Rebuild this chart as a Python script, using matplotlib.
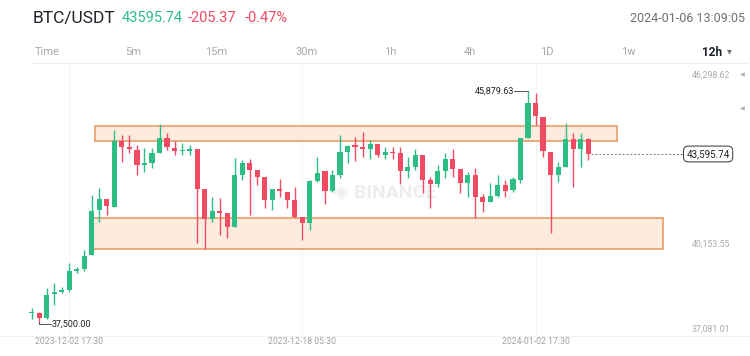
import matplotlib
matplotlib.use('Agg')
import matplotlib.pyplot as plt
from matplotlib.lines import Line2D
from matplotlib.patches import Rectangle

plt.rcParams['font.family'] = ['Roboto', 'DejaVu Sans']

# 12h candles, Binance BTC/USDT
opens = [37830, 37830, 37650, 38520, 38590, 38660, 39350, 39420, 39930, 41560,
         41960, 41670, 44070, 43850, 43740, 43200, 43270, 43630, 44180, 43810,
         43720, 43700, 43780, 42330, 41240, 41530, 41460, 40950, 42830, 43270,
         43010, 42760, 41930, 42330, 42220, 41930, 41310, 41090, 42620, 42980,
         42250, 42830, 43670, 43920, 43850, 43780, 43960, 43560, 43670, 43630,
         42980, 43120, 43560, 42650, 42510, 42980, 43410, 43050, 42540, 42830,
         42040, 41860, 42070, 42470, 42290, 42650, 44180, 45440, 44940, 43670,
         42830, 43120, 44140, 43780, 44140]
highs = [38000, 37880, 38735, 38920, 38770, 39640, 39500, 40110, 42110, 42360,
         41980, 44470, 44290, 44290, 43930, 43820, 43820, 44680, 44360, 44070,
         43990, 43930, 43790, 42330, 42040, 42000, 41460, 43450, 43380, 43410,
         43010, 42760, 42330, 42690, 42220, 42400, 41310, 42650, 43490, 42980,
         43010, 44290, 43930, 44210, 44390, 44100, 43960, 43850, 43850, 43850,
         43490, 43780, 43560, 42760, 43200, 43630, 43780, 43050, 42940, 43090,
         42150, 42540, 42830, 42650, 42760, 44180, 45879.63, 45810, 44940, 43670,
         43300, 44720, 44360, 44360, 44180]
lows = [37600, 37500, 37600, 38120, 38550, 38590, 39280, 39350, 39930, 41130,
        41380, 41670, 43300, 43630, 42830, 42940, 43090, 43630, 43740, 43560,
        43560, 43560, 40370, 40150, 41130, 40660, 40550, 40950, 42650, 41380,
        42470, 41640, 41560, 42040, 41640, 41270, 40480, 40840, 42580, 41780,
        42220, 42730, 43270, 43340, 43490, 43410, 43490, 43410, 43410, 42510,
        42730, 43010, 42180, 41640, 42400, 42730, 42760, 42180, 42040, 41270,
        41490, 41860, 42040, 42040, 42220, 42540, 44180, 44650, 43490, 40730,
        42580, 43120, 42400, 43120, 43380]
closes = [37850, 37650, 38480, 38590, 38660, 39350, 39420, 39900, 41530, 41960,
          41710, 44070, 43850, 43780, 43200, 43270, 43630, 44180, 43850, 43700,
          43740, 43780, 42330, 41240, 41530, 41460, 40950, 42830, 43270, 43010,
          42760, 41930, 42330, 42250, 41930, 41310, 41090, 42620, 42910, 42250,
          42830, 43670, 43890, 43850, 43780, 43960, 43560, 43670, 43630, 42980,
          43120, 43560, 42650, 42510, 42980, 43410, 43050, 42540, 42830, 42040,
          41860, 42070, 42470, 42250, 42690, 44180, 45440, 44970, 43700, 42830,
          43120, 44140, 43780, 44140, 43595.74]

date_idx = [5, 36, 67]
date_labels = ['2023-12-02 17:30', '2023-12-18 05:30', '2024-01-02 17:30']

axis_prices = [46298.62, 40153.55, 37081.01]
last_price = 43595.74
high_idx, high_price = 66, 45879.63
low_idx, low_price = 1, 37500.00

# zones drawn on the chart: (x start, x end, price low, price high)
zones = [(8.4, 77.8, 44070, 44600), (8.0, 83.9, 40153.55, 41270)]

tabs = ['Time', '5m', '15m', '30m', '1h', '4h', '1D', '1w']
tab_x = [47, 133, 216, 307, 390, 470, 547, 628]

GREEN = '#2ebd85'
RED = '#ef4b63'
W, H = 750, 356


def fpos(x, y):
    return x / W, 1 - y / H


fig = plt.figure(figsize=(7.5, 3.56), dpi=100)
fig.patch.set_facecolor('white')
ax = fig.add_axes([0, 0, 1, 1])
ax.axis('off')
ax.set_xlim(-4.215, 95.52)
ax.set_ylim(36269, 49181)

# faint grid
ax.axhline(36995, color='#f0f0f0', lw=0.8, zorder=0)
for i in date_idx:
    ax.axvline(i, ymin=0.05, ymax=0.82, color='#f6f6f6', lw=0.8, zorder=0)

# watermark
ax.text(47, 42180, '◈ BINANCE', color='#ededed', fontsize=14,
        fontweight='bold', ha='center', va='center', zorder=0.5)

for x0, x1, p0, p1 in zones:
    ax.add_patch(Rectangle((x0, p0), x1 - x0, p1 - p0, facecolor='#fdebdd',
                           edgecolor='#e9a472', lw=1.3, zorder=1))

xs = list(range(len(opens)))
cols = [GREEN if c >= o else RED for o, c in zip(opens, closes)]
ax.vlines(xs, lows, highs, colors=cols, lw=1, zorder=2)
bottoms = [min(o, c) for o, c in zip(opens, closes)]
heights = [max(abs(c - o), 25) for o, c in zip(opens, closes)]
ax.bar(xs, heights, bottom=bottoms, width=0.68, color=cols, zorder=3)

# last price line and tag
ax.plot([len(opens) - 0.6, 87.0], [last_price, last_price], ls=(0, (2, 2)),
        color='#777777', lw=0.7, zorder=2)
ax.text(89.95, last_price, f'{last_price:,.2f}', ha='center', va='center',
        fontsize=7, color='#222222', zorder=4,
        bbox=dict(boxstyle='round,pad=0.3,rounding_size=0.5', fc='white',
                  ec='#333333', lw=0.7))

# high / low markers
ax.plot([high_idx - 1.8, high_idx], [high_price, high_price], color='#555555', lw=0.7)
ax.text(high_idx - 1.9, high_price, f'{high_price:,.2f}', ha='right',
        va='center', fontsize=6.5, color='#222222')
ax.plot([low_idx, low_idx, low_idx + 1.6], [low_price, low_price - 60, low_price - 60],
        color='#555555', lw=0.7)
ax.text(low_idx + 1.7, low_price - 60, f'{low_price:,.2f}', ha='left',
        va='center', fontsize=6.5, color='#222222')

# right price axis
for p in axis_prices:
    ax.text(0.973, p, f'{p:,.2f}', transform=ax.get_yaxis_transform(),
            ha='right', va='bottom', fontsize=6.3, color='#aaaaaa')
for y in [75, 109]:
    fig.text(*fpos(742, y), '◀', fontsize=4.5, color='#b0b0b0', ha='center', va='center')

for i, lab in zip(date_idx, date_labels):
    ax.text(i, 36813, lab, ha='center', va='center', fontsize=6.3, color='#a0a0a0')

# header
fig.text(*fpos(33, 18), 'BTC/USDT', fontsize=12.5, color='#1e2329', va='center')
fig.text(*fpos(122, 18), '43595.74', fontsize=10.5, color=GREEN, va='center')
fig.text(*fpos(188, 18), '-205.37', fontsize=10.5, color=RED, va='center')
fig.text(*fpos(245, 18), '-0.47%', fontsize=10.5, color=RED, va='center')
fig.text(*fpos(745, 18), '2024-01-06 13:09:05', fontsize=9, color='#707070',
         va='center', ha='right')

for t, x in zip(tabs, tab_x):
    fig.text(*fpos(x, 52), t, fontsize=8, color='#a8a8a8', ha='center', va='center')
fig.text(*fpos(712, 52), '12h', fontsize=8.5, color='#1e2329', ha='center',
         va='center', fontweight='bold')
fig.text(*fpos(729, 51), '▾', fontsize=7, color='#707070', ha='center', va='center')

fig.add_artist(Line2D([32 / W, 748 / W], [1 - 63 / H, 1 - 63 / H],
                      color='#eeeeee', lw=0.8))

fig.savefig('out.png', dpi=100, facecolor='white')
